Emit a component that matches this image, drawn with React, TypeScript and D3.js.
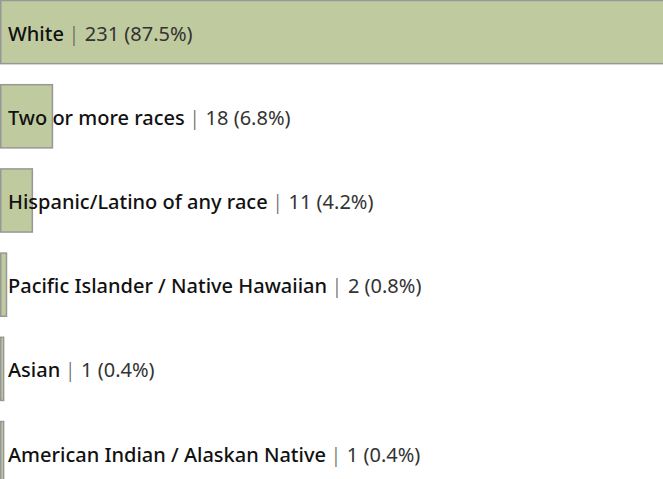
import React from "react";
import * as d3 from "d3";

const categories = [
  "White",
  "Two or more races",
  "Hispanic/Latino of any race",
  "Pacific Islander / Native Hawaiian",
  "Asian",
  "American Indian / Alaskan Native",
];
const counts = [231, 18, 11, 2, 1, 1];
const percents = ["87.5%", "6.8%", "4.2%", "0.8%", "0.4%", "0.4%"];

const W = 663;
const H = 479;

export default function App() {
  const x = d3.scaleLinear().domain([0, 231]).range([0.75, 664]);
  const y = d3
    .scaleBand<string>()
    .domain(categories)
    .range([0.5, 484.65])
    .paddingInner(0.25)
    .paddingOuter(0);
  const font = "'Noto Sans', 'Open Sans', sans-serif";
  return (
    <svg
      width={W}
      height={H}
      style={{ position: "absolute", left: 0, top: 0, background: "#fff" }}
    >
      {categories.map((c, i) => {
        const y0 = y(c)!;
        const bh = y.bandwidth();
        return (
          <g key={c}>
            <rect
              x={x(0)}
              y={y0}
              width={Math.max(0, x(counts[i]) - x(0))}
              height={bh}
              fill="#bfcb9f"
              stroke="#979797"
              strokeWidth={1.5}
            />
            <text
              x={8}
              y={y0 + bh / 2 + 1.5}
              dy="0.35em"
              fontFamily={font}
              fontSize={20}
            >
              <tspan fill="#111" fontWeight={500}>{c}</tspan>
              <tspan fill="#555" fontWeight={300} dx={4.5}>|</tspan>
              <tspan fill="#333" fontWeight={400} dx={5.5}>{`${counts[i]} (${percents[i]})`}</tspan>
            </text>
          </g>
        );
      })}
    </svg>
  );
}
